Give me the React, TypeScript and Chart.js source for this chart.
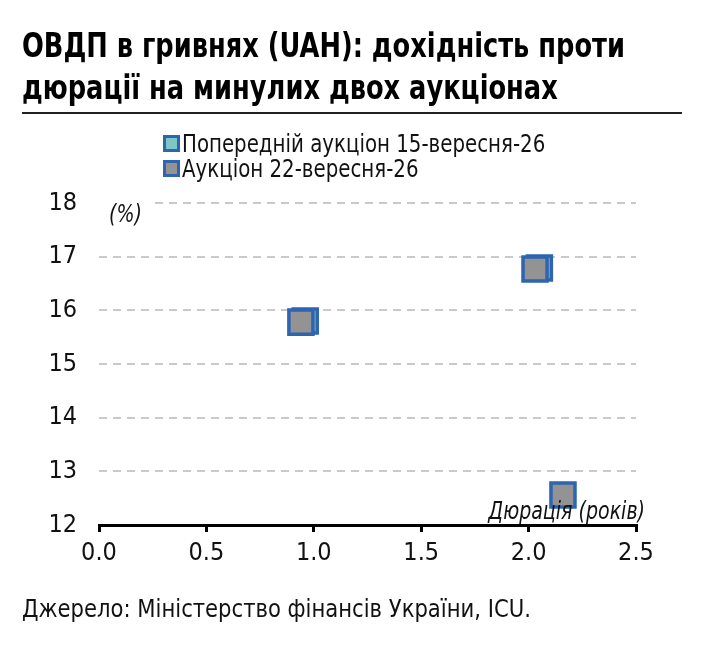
import React, { useEffect, useRef } from 'react';
import { Chart, registerables, Plugin } from 'chart.js';

Chart.register(...registerables);

const FONT = "'Liberation Sans Narrow', 'DejaVu Sans Condensed', 'Roboto Condensed', sans-serif";

const titleLines = ['ОВДП в гривнях (UAH): дохідність проти', 'дюрації на минулих двох аукціонах'];
const seriesLabels = ['Попередній аукціон 15-вересня-26', 'Аукціон 22-вересня-26'];
const seriesFills = ['#7cc6c4', '#939393'];
const markerBorder = '#2e64b0';

// previous auction (15 Sep)
const prevDuration = [0.96, 2.05];
const prevYield = [15.8, 16.79];
// latest auction (22 Sep)
const lastDuration = [0.94, 2.03, 2.16];
const lastYield = [15.78, 16.77, 12.56];

const yMin = 12;
const yMax = 18;
const xMin = 0;
const xMax = 2.5;
const yUnitLabel = '(%)';
const xUnitLabel = 'Дюрація (років)';
const sourceText = 'Джерело: Міністерство фінансів України, ICU.';

const axisLabels: Plugin<'scatter'> = {
    id: 'axisLabels',
    afterDatasetsDraw(chart) {
        const { ctx, chartArea } = chart
        ctx.save()
        // white patch behind the unit label, it cuts the top grid line
        ctx.fillStyle = '#fff'
        ctx.fillRect(chartArea.left, chartArea.top - 6, 56, 30)
        ctx.fillStyle = '#111'
        ctx.font = `italic 24px ${FONT}`
        ctx.textBaseline = 'alphabetic'
        ctx.save()
        ctx.translate(chartArea.left + 10, chartArea.top + 19)
        ctx.scale(0.88, 1)
        ctx.textAlign = 'left'
        ctx.fillText(yUnitLabel, 0, 0)
        ctx.restore()
        ctx.translate(chartArea.right + 9, chartArea.bottom - 6)
        ctx.scale(0.88, 1)
        ctx.textAlign = 'right'
        ctx.fillText(xUnitLabel, 0, 0)
        ctx.restore()
    }
}

const ScatterChart = () => {
    const chartRef = useRef<HTMLCanvasElement>(null)

    useEffect(() => {
        document.body.style.margin = '0'
        if (!chartRef.current) return
        const ctx = chartRef.current.getContext('2d')
        if (!ctx) return

        const myChart = new Chart(ctx, {
            type: 'scatter',
            data: {
                datasets: [
                    {
                        label: seriesLabels[0],
                        data: prevDuration.map((x, i) => ({ x, y: prevYield[i] })),
                        backgroundColor: seriesFills[0],
                        borderColor: markerBorder,
                        borderWidth: 3.5,
                        pointStyle: 'rect',
                        pointRadius: 17,
                        order: 2,
                    },
                    {
                        label: seriesLabels[1],
                        data: lastDuration.map((x, i) => ({ x, y: lastYield[i] })),
                        backgroundColor: seriesFills[1],
                        borderColor: markerBorder,
                        borderWidth: 3.5,
                        pointStyle: 'rect',
                        pointRadius: 17,
                        order: 1,
                    },
                ],
            },
            options: {
                responsive: false,
                animation: false,
                events: [],
                layout: { padding: { left: 0, right: 68, top: 203, bottom: 76 } },
                plugins: {
                    legend: { display: false },
                    tooltip: { enabled: false },
                },
                scales: {
                    x: {
                        type: 'linear',
                        min: xMin,
                        max: xMax,
                        afterFit: (scale) => { scale.height = 50 },
                        ticks: {
                            stepSize: 0.5,
                            callback: (v) => Number(v).toFixed(1),
                            color: '#111',
                            font: { family: FONT, size: 25 },
                            padding: 6,
                        },
                        grid: {
                            drawOnChartArea: false,
                            drawTicks: true,
                            tickLength: 7,
                            color: '#000',
                            lineWidth: 3,
                        },
                        border: { display: true, color: '#000', width: 3 },
                    },
                    y: {
                        type: 'linear',
                        min: yMin,
                        max: yMax,
                        afterFit: (scale) => { scale.width = 99 },
                        ticks: {
                            stepSize: 1,
                            color: '#111',
                            font: { family: FONT, size: 25 },
                            padding: 22,
                        },
                        grid: {
                            drawTicks: false,
                            color: (c) => (c.tick && c.tick.value === yMin ? 'rgba(0,0,0,0)' : '#c9c9c9'),
                            lineWidth: 2,
                        },
                        border: { display: false, dash: [8, 6] },
                    },
                },
            },
            plugins: [axisLabels],
        })

        return () => myChart.destroy()
    }, [])

    return <canvas ref={chartRef} width={704} height={651} style={{ position: 'absolute', left: 0, top: 0 }} />
}

const squeeze = (k: number): React.CSSProperties => ({
    transform: `scaleX(${k})`,
    transformOrigin: 'left top',
    whiteSpace: 'nowrap',
})

const App = () => {
    return (
        <div style={{ position: 'relative', width: 704, height: 651, background: '#fff', fontFamily: FONT, color: '#111', overflow: 'hidden' }}>
            <ScatterChart />
            <div style={{ position: 'absolute', left: 22, top: 24, fontSize: 34, fontWeight: 'bold', lineHeight: '42px', color: '#000', ...squeeze(0.84) }}>
                {titleLines.map((t) => <div key={t}>{t}</div>)}
            </div>
            <div style={{ position: 'absolute', left: 22, top: 112, width: 660, height: 1.5, background: '#222' }} />
            <div style={{ position: 'absolute', left: 163, top: 131, fontSize: 25, lineHeight: '25px' }}>
                {seriesLabels.map((label, i) => (
                    <div key={label} style={{ display: 'flex', alignItems: 'center' }}>
                        <span style={{ display: 'inline-block', width: 11, height: 11, background: seriesFills[i], border: `3px solid ${markerBorder}`, marginRight: 2, flex: 'none' }} />
                        <span style={squeeze(0.88)}>{label}</span>
                    </div>
                ))}
            </div>
            <div style={{ position: 'absolute', left: 22, top: 594, fontSize: 25, ...squeeze(0.94) }}>{sourceText}</div>
        </div>
    )
}

export default App;
